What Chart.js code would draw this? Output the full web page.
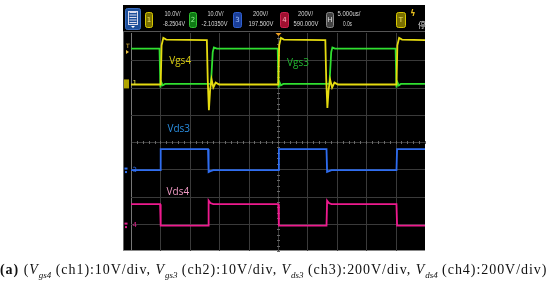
<!DOCTYPE html>
<html>
<head>
<meta charset="utf-8">
<script src="https://cdn.jsdelivr.net/npm/chart.js@4/dist/chart.umd.min.js"></script>
<style>
  html, body { margin: 0; padding: 0; background: #fff; }
  #wrap { position: relative; width: 550px; height: 285px; }
  #caption {
    position: absolute; left: 0; top: 262px; width: 550px;
    font-family: "Liberation Serif", "DejaVu Serif", serif; font-size: 14px;
    color: #111; white-space: nowrap; letter-spacing: 0.95px;
  }
  #caption i sub { font-size: 9px; letter-spacing: 0; }
</style>
</head>
<body>
<div id="wrap">
  <canvas id="scope" width="550" height="285"></canvas>
  <div id="caption"><b>(a)</b> (<i>V<sub>gs4</sub></i> (ch1):10V/div, <i>V<sub>gs3</sub></i> (ch2):10V/div, <i>V<sub>ds3</sub></i> (ch3):200V/div, <i>V<sub>ds4</sub></i> (ch4):200V/div)</div>
</div>
<script>
// time in us (5 us/div, screen -25..25), levels in screen divisions (0..8 from bottom)
const vgs4Time = [-25, -19.95, -19.8, -19.5, -19.0, -12.1, -11.95, -11.75, -11.55, -11.3, -11.0, -10.6, -10.0,
  0.05, 0.2, 0.5, 1.0, 8.05, 8.2, 8.4, 8.6, 8.85, 9.2, 9.6, 10.2, 20.15, 20.3, 20.6, 21.1, 25];
const vgs4Level = [6.11, 6.11, 7.55, 7.82, 7.76, 7.74, 6.3, 5.17, 5.9, 6.3, 6.0, 6.18, 6.11,
  6.11, 7.55, 7.82, 7.76, 7.74, 6.3, 5.25, 5.9, 6.3, 6.0, 6.18, 6.11, 6.11, 7.55, 7.82, 7.76, 7.74];

const vgs3Time = [-25, -20.15, -20.0, -19.85, -19.6, -19.2, -11.4, -11.1, -10.9, -10.4,
  -0.05, 0.1, 0.25, 0.5, 0.9, 8.75, 9.05, 9.25, 9.7, 20.0, 20.15, 20.3, 20.55, 20.9, 25];
const vgs3Level = [7.43, 7.43, 6.0, 6.2, 6.08, 6.13, 6.13, 7.3, 7.47, 7.43,
  7.43, 6.0, 6.2, 6.08, 6.13, 6.13, 7.3, 7.47, 7.43, 7.43, 6.0, 6.2, 6.08, 6.13, 6.13];

const vds3Time = [-25, -20.05, -19.95, -11.9, -11.8, -11.5, -11.0, 0.05, 0.15, 8.25, 8.35, 8.65, 9.1, 20.15, 20.25, 25];
const vds3Level = [2.97, 2.97, 3.74, 3.74, 2.9, 2.93, 2.97, 2.97, 3.74, 3.74, 2.9, 2.93, 2.97, 2.97, 3.74, 3.74];

const vds4Time = [-25, -20.05, -19.95, -11.9, -11.8, -11.5, -11.0, 0.05, 0.15, 8.25, 8.35, 8.65, 9.1, 20.15, 20.25, 25];
const vds4Level = [1.72, 1.72, 0.93, 0.93, 1.85, 1.76, 1.72, 1.72, 0.93, 0.93, 1.85, 1.76, 1.72, 1.72, 0.93, 0.93];

const traceNames = ["Vgs4", "Vgs3", "Vds3", "Vds4"];
const traceColors = ["#e6dc10", "#30e030", "#2f6df0", "#ee1a8e"];
const labelColors = ["#d8cc10", "#22b830", "#2a8ee0", "#f09ac4"];

function pts(t, v) {
  return t.map((x, i) => ({ x: x, y: v[i] }));
}

const screen = { left: 123, right: 425, top: 5, bottom: 251 };

const scopePlugin = {
  id: "scope",
  beforeDraw(chart) {
    const ctx = chart.ctx;
    const a = chart.chartArea;
    const xs = chart.scales.x, ys = chart.scales.y;
    ctx.save();
    ctx.fillStyle = "#000";
    ctx.fillRect(screen.left, screen.top, screen.right - screen.left, screen.bottom - screen.top);
    // header separator
    ctx.strokeStyle = "#555";
    ctx.lineWidth = 1;
    ctx.beginPath(); ctx.moveTo(screen.left, 31.5); ctx.lineTo(screen.right, 31.5); ctx.stroke();
    // left border lines
    ctx.strokeStyle = "#666";
    ctx.beginPath(); ctx.moveTo(123.5, 32); ctx.lineTo(123.5, 251); ctx.stroke();
    ctx.strokeStyle = "#777";
    ctx.beginPath(); ctx.moveTo(a.left + 0.5, a.top); ctx.lineTo(a.left + 0.5, a.bottom); ctx.stroke();
    ctx.strokeStyle = "#888";
    ctx.beginPath(); ctx.moveTo(screen.left, 250.5); ctx.lineTo(screen.right, 250.5); ctx.stroke();

    // graticule
    ctx.strokeStyle = "#3a3a3a";
    for (let i = 1; i < 10; i++) {
      const x = Math.round(xs.getPixelForValue(-25 + i * 5)) + 0.5;
      ctx.beginPath(); ctx.moveTo(x, a.top); ctx.lineTo(x, a.bottom); ctx.stroke();
    }
    for (let j = 1; j < 8; j++) {
      const y = Math.round(ys.getPixelForValue(j)) + 0.5;
      ctx.beginPath(); ctx.moveTo(a.left, y); ctx.lineTo(a.right, y); ctx.stroke();
    }
    // center ticks
    ctx.strokeStyle = "#6a6a6a";
    const cx = Math.round(xs.getPixelForValue(0)) + 0.5;
    const cy = Math.round(ys.getPixelForValue(4)) + 0.5;
    for (let k = 0; k <= 50; k++) {
      const x = Math.round(xs.getPixelForValue(-25 + k)) + 0.5;
      ctx.beginPath(); ctx.moveTo(x, cy - 1.5); ctx.lineTo(x, cy + 1.5); ctx.stroke();
    }
    for (let k = 0; k <= 40; k++) {
      const y = Math.round(ys.getPixelForValue(k / 5)) + 0.5;
      ctx.beginPath(); ctx.moveTo(cx - 1.5, y); ctx.lineTo(cx + 1.5, y); ctx.stroke();
    }

    // header
    function box(x, y, w, h, fill, stroke, txt, tc) {
      ctx.fillStyle = fill;
      ctx.strokeStyle = stroke;
      ctx.beginPath();
      ctx.roundRect(x, y, w, h, 2);
      ctx.fill(); ctx.stroke();
      if (txt) {
        ctx.fillStyle = tc;
        ctx.font = "7px 'DejaVu Sans'";
        ctx.textAlign = "center"; ctx.textBaseline = "middle";
        ctx.fillText(txt, x + w / 2, y + h / 2 + 0.5);
      }
    }
    box(125.5, 8.5, 15, 21, "#1d4f9a", "#3a6cc0");
    ctx.strokeStyle = "#dde";
    for (let r = 0; r < 5; r++) {
      ctx.beginPath(); ctx.moveTo(129.5, 12.5 + r * 2.5); ctx.lineTo(136.5, 12.5 + r * 2.5); ctx.stroke();
    }
    ctx.strokeRect(128.5, 11.5, 9, 13);
    ctx.fillStyle = "#fff";
    ctx.beginPath(); ctx.moveTo(131, 26); ctx.lineTo(135, 26); ctx.lineTo(133, 28); ctx.fill();

    box(145.5, 12.5, 7, 15, "#7a7000", "#d8c800", "1", "#eee060");
    box(189.5, 12.5, 7, 15, "#0e7a14", "#30c030", "2", "#90f090");
    box(233.5, 12.5, 8, 15, "#1b3f9a", "#3060d0", "3", "#a0c0ff");
    box(280.5, 12.5, 8, 15, "#a01030", "#d02050", "4", "#ffb0c0");
    box(326.5, 12.5, 7, 15, "#444", "#888", "H", "#ddd");
    box(396.5, 12.5, 9, 15, "#7a7000", "#d8c800", "T", "#eee060");

    ctx.fillStyle = "#d8d8d8";
    ctx.font = "7px 'Liberation Sans'";
    ctx.textAlign = "center"; ctx.textBaseline = "middle";
    // [x top, text top, width top, x bottom, text bottom, width bottom]
    const hdr = [
      [172.5, "10.0V/", 16, 174, "-8.2504V", 22],
      [215.5, "10.0V/", 16, 214.5, "-2.10350V", 26],
      [260.5, "200V/", 15, 261, "197.500V", 25],
      [305.5, "200V/", 15, 306, "590.000V", 25],
      [349, "5.000us/", 23, 347.5, "0.0s", 9]
    ];
    hdr.forEach(h => {
      ctx.fillText(h[1], h[0], 14.5, h[2]);
      ctx.fillText(h[4], h[3], 24.5, h[5]);
    });
    ctx.fillStyle = "#e8c020";
    ctx.font = "bold 8px 'DejaVu Sans'";
    ctx.fillText("\u03DF", 413, 14);
    ctx.fillStyle = "#ddd";
    ctx.font = "8px 'Noto Sans CJK SC'";
    ctx.fillText("\u505C", 422, 24.5);

    // trigger position marker
    ctx.fillStyle = "#f0a020";
    ctx.beginPath(); ctx.moveTo(cx - 3, a.top); ctx.lineTo(cx + 3, a.top); ctx.lineTo(cx, a.top + 3); ctx.fill();
    ctx.restore();
  },
  afterDatasetsDraw(chart) {
    const ctx = chart.ctx;
    const xs = chart.scales.x, ys = chart.scales.y;
    ctx.save();
    // trace labels
    ctx.font = "10px 'Open Sans'";
    ctx.textAlign = "left"; ctx.textBaseline = "middle";
    const labelPos = [[-18.5, 6.95], [1.55, 6.9], [-18.8, 4.48], [-18.95, 2.15]];
    labelPos.forEach((p, i) => {
      ctx.fillStyle = labelColors[i];
      ctx.fillText(traceNames[i], xs.getPixelForValue(p[0]), ys.getPixelForValue(p[1]));
    });
    // channel ground markers on the left edge
    ctx.font = "7px 'DejaVu Sans'";
    const marks = [["1", 6.15, "#d8c800"], ["3", 2.97, "#3070f0"], ["4", 0.95, "#e0208c"]];
    marks.forEach(m => {
      const y = ys.getPixelForValue(m[1]);
      ctx.fillStyle = m[2];
      if (m[0] === "1") {
        ctx.fillStyle = "#b0a400";
        ctx.fillRect(124, y - 4, 5, 9);
        ctx.fillStyle = "#e8e040";
      } else {
        ctx.fillRect(124.5, y - 2.5, 3, 2);
        ctx.fillRect(125, y + 1, 2, 2);
      }
      ctx.fillText(m[0], 132.5, y);
    });
    ctx.fillStyle = "#e8c040";
    ctx.font = "6px 'DejaVu Sans'";
    ctx.fillText("T", 126, ys.getPixelForValue(7.5));
    ctx.beginPath();
    const ty = ys.getPixelForValue(7.3);
    ctx.moveTo(126, ty - 2); ctx.lineTo(129, ty); ctx.lineTo(126, ty + 2); ctx.fill();
    ctx.restore();
  }
};

new Chart(document.getElementById("scope"), {
  type: "line",
  data: {
    datasets: [
      { label: traceNames[2], data: pts(vds3Time, vds3Level), borderColor: traceColors[2] },
      { label: traceNames[3], data: pts(vds4Time, vds4Level), borderColor: traceColors[3] },
      { label: traceNames[0], data: pts(vgs4Time, vgs4Level), borderColor: traceColors[0] },
      { label: traceNames[1], data: pts(vgs3Time, vgs3Level), borderColor: traceColors[1] }
    ]
  },
  options: {
    responsive: false,
    animation: false,
    events: [],
    layout: { padding: { left: 131, right: 125, top: 33, bottom: 34 } },
    elements: {
      line: { borderWidth: 1.8, tension: 0, fill: false },
      point: { radius: 0 }
    },
    scales: {
      x: { type: "linear", min: -25, max: 25, display: false },
      y: { type: "linear", min: 0, max: 8, display: false }
    },
    plugins: {
      legend: { display: false },
      tooltip: { enabled: false }
    }
  },
  plugins: [scopePlugin]
});
</script>
</body>
</html>
